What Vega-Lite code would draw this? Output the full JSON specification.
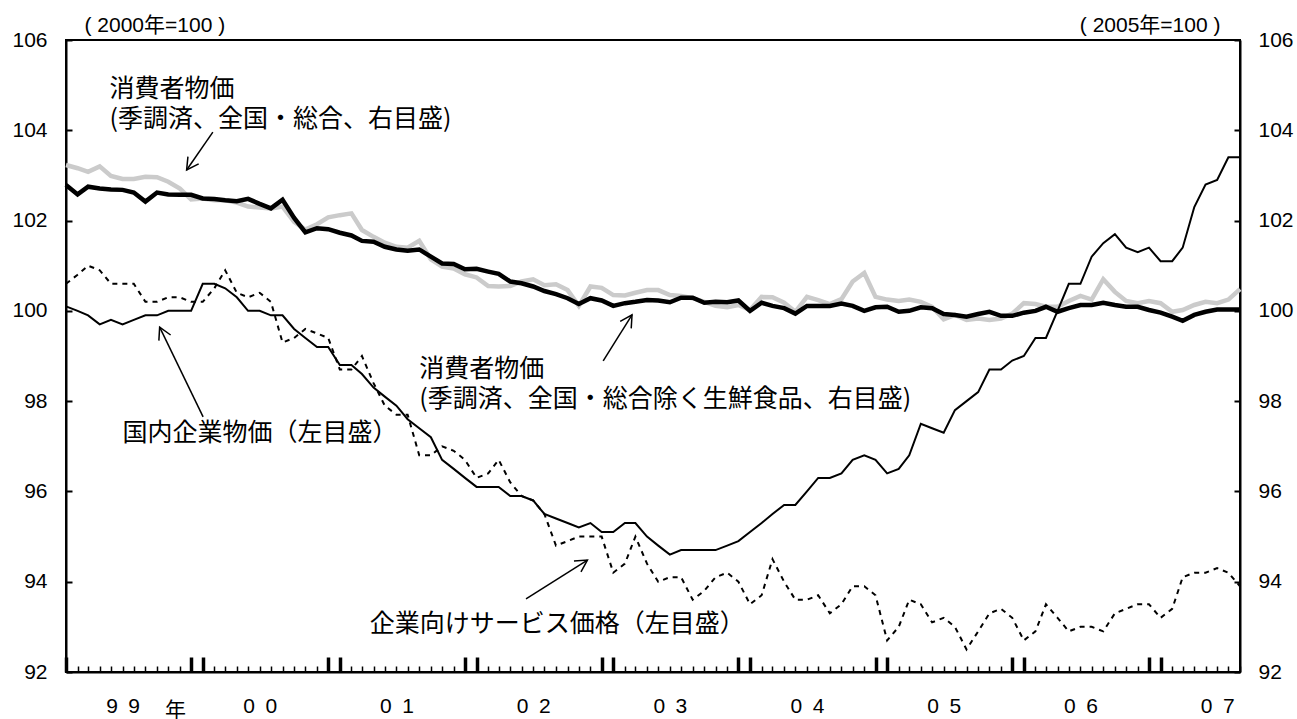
{
  "$schema": "https://vega.github.io/schema/vega-lite/v6.json",
  "width": 1174,
  "height": 632,
  "autosize": "none",
  "padding": {"left": 66, "top": 40, "right": 57, "bottom": 47},
  "background": "white",
  "datasets": {
    "prices": [
      {"date":"1999-01-01","ppi":100.1,"sppi":100.6,"cpi":103.23,"core":102.79},
      {"date":"1999-02-01","ppi":100.0,"sppi":100.8,"cpi":103.16,"core":102.58},
      {"date":"1999-03-01","ppi":99.9,"sppi":101.0,"cpi":103.08,"core":102.75},
      {"date":"1999-04-01","ppi":99.7,"sppi":100.9,"cpi":103.2,"core":102.71},
      {"date":"1999-05-01","ppi":99.8,"sppi":100.6,"cpi":102.99,"core":102.69},
      {"date":"1999-06-01","ppi":99.7,"sppi":100.6,"cpi":102.92,"core":102.68},
      {"date":"1999-07-01","ppi":99.8,"sppi":100.6,"cpi":102.92,"core":102.62},
      {"date":"1999-08-01","ppi":99.9,"sppi":100.2,"cpi":102.97,"core":102.42},
      {"date":"1999-09-01","ppi":99.9,"sppi":100.2,"cpi":102.96,"core":102.62},
      {"date":"1999-10-01","ppi":100.0,"sppi":100.3,"cpi":102.86,"core":102.58},
      {"date":"1999-11-01","ppi":100.0,"sppi":100.3,"cpi":102.71,"core":102.57},
      {"date":"1999-12-01","ppi":100.0,"sppi":100.2,"cpi":102.47,"core":102.57},
      {"date":"2000-01-01","ppi":100.6,"sppi":100.2,"cpi":102.49,"core":102.49},
      {"date":"2000-02-01","ppi":100.6,"sppi":100.5,"cpi":102.45,"core":102.48},
      {"date":"2000-03-01","ppi":100.5,"sppi":100.9,"cpi":102.45,"core":102.45},
      {"date":"2000-04-01","ppi":100.3,"sppi":100.4,"cpi":102.4,"core":102.43},
      {"date":"2000-05-01","ppi":100.0,"sppi":100.3,"cpi":102.31,"core":102.48},
      {"date":"2000-06-01","ppi":100.0,"sppi":100.4,"cpi":102.29,"core":102.37},
      {"date":"2000-07-01","ppi":99.9,"sppi":100.2,"cpi":102.27,"core":102.27},
      {"date":"2000-08-01","ppi":99.9,"sppi":99.3,"cpi":102.31,"core":102.46},
      {"date":"2000-09-01","ppi":99.6,"sppi":99.4,"cpi":101.97,"core":102.06},
      {"date":"2000-10-01","ppi":99.4,"sppi":99.6,"cpi":101.8,"core":101.74},
      {"date":"2000-11-01","ppi":99.2,"sppi":99.5,"cpi":101.92,"core":101.83},
      {"date":"2000-12-01","ppi":99.2,"sppi":99.4,"cpi":102.07,"core":101.81},
      {"date":"2001-01-01","ppi":98.8,"sppi":98.7,"cpi":102.12,"core":101.73},
      {"date":"2001-02-01","ppi":98.8,"sppi":98.7,"cpi":102.16,"core":101.67},
      {"date":"2001-03-01","ppi":98.6,"sppi":99.0,"cpi":101.79,"core":101.55},
      {"date":"2001-04-01","ppi":98.3,"sppi":98.4,"cpi":101.64,"core":101.53},
      {"date":"2001-05-01","ppi":98.1,"sppi":97.9,"cpi":101.51,"core":101.42},
      {"date":"2001-06-01","ppi":97.9,"sppi":97.7,"cpi":101.42,"core":101.36},
      {"date":"2001-07-01","ppi":97.6,"sppi":97.7,"cpi":101.4,"core":101.33},
      {"date":"2001-08-01","ppi":97.4,"sppi":96.8,"cpi":101.55,"core":101.36},
      {"date":"2001-09-01","ppi":97.2,"sppi":96.8,"cpi":101.14,"core":101.2},
      {"date":"2001-10-01","ppi":96.7,"sppi":97.0,"cpi":100.98,"core":101.05},
      {"date":"2001-11-01","ppi":96.5,"sppi":96.9,"cpi":100.94,"core":101.04},
      {"date":"2001-12-01","ppi":96.3,"sppi":96.7,"cpi":100.81,"core":100.92},
      {"date":"2002-01-01","ppi":96.1,"sppi":96.3,"cpi":100.74,"core":100.93},
      {"date":"2002-02-01","ppi":96.1,"sppi":96.4,"cpi":100.55,"core":100.87},
      {"date":"2002-03-01","ppi":96.1,"sppi":96.7,"cpi":100.54,"core":100.82},
      {"date":"2002-04-01","ppi":95.9,"sppi":96.2,"cpi":100.55,"core":100.65},
      {"date":"2002-05-01","ppi":95.9,"sppi":95.9,"cpi":100.65,"core":100.61},
      {"date":"2002-06-01","ppi":95.8,"sppi":95.8,"cpi":100.7,"core":100.54},
      {"date":"2002-07-01","ppi":95.5,"sppi":95.5,"cpi":100.57,"core":100.44},
      {"date":"2002-08-01","ppi":95.4,"sppi":94.8,"cpi":100.59,"core":100.37},
      {"date":"2002-09-01","ppi":95.3,"sppi":94.9,"cpi":100.46,"core":100.28},
      {"date":"2002-10-01","ppi":95.2,"sppi":95.0,"cpi":100.11,"core":100.15},
      {"date":"2002-11-01","ppi":95.3,"sppi":95.0,"cpi":100.54,"core":100.28},
      {"date":"2002-12-01","ppi":95.1,"sppi":95.0,"cpi":100.51,"core":100.23},
      {"date":"2003-01-01","ppi":95.1,"sppi":94.2,"cpi":100.35,"core":100.11},
      {"date":"2003-02-01","ppi":95.3,"sppi":94.4,"cpi":100.34,"core":100.17},
      {"date":"2003-03-01","ppi":95.3,"sppi":95.0,"cpi":100.4,"core":100.2},
      {"date":"2003-04-01","ppi":95.0,"sppi":94.4,"cpi":100.46,"core":100.24},
      {"date":"2003-05-01","ppi":94.8,"sppi":94.0,"cpi":100.46,"core":100.23},
      {"date":"2003-06-01","ppi":94.6,"sppi":94.1,"cpi":100.35,"core":100.19},
      {"date":"2003-07-01","ppi":94.7,"sppi":94.1,"cpi":100.33,"core":100.29},
      {"date":"2003-08-01","ppi":94.7,"sppi":93.6,"cpi":100.28,"core":100.29},
      {"date":"2003-09-01","ppi":94.7,"sppi":93.8,"cpi":100.2,"core":100.18},
      {"date":"2003-10-01","ppi":94.7,"sppi":94.1,"cpi":100.11,"core":100.2},
      {"date":"2003-11-01","ppi":94.8,"sppi":94.2,"cpi":100.08,"core":100.19},
      {"date":"2003-12-01","ppi":94.9,"sppi":94.0,"cpi":100.13,"core":100.23},
      {"date":"2004-01-01","ppi":95.1,"sppi":93.5,"cpi":100.02,"core":100.0},
      {"date":"2004-02-01","ppi":95.3,"sppi":93.7,"cpi":100.31,"core":100.18},
      {"date":"2004-03-01","ppi":95.5,"sppi":94.5,"cpi":100.3,"core":100.11},
      {"date":"2004-04-01","ppi":95.7,"sppi":94.0,"cpi":100.18,"core":100.06},
      {"date":"2004-05-01","ppi":95.7,"sppi":93.6,"cpi":99.98,"core":99.94},
      {"date":"2004-06-01","ppi":96.0,"sppi":93.6,"cpi":100.31,"core":100.11},
      {"date":"2004-07-01","ppi":96.3,"sppi":93.7,"cpi":100.24,"core":100.11},
      {"date":"2004-08-01","ppi":96.3,"sppi":93.3,"cpi":100.15,"core":100.11},
      {"date":"2004-09-01","ppi":96.4,"sppi":93.5,"cpi":100.26,"core":100.16},
      {"date":"2004-10-01","ppi":96.7,"sppi":93.9,"cpi":100.65,"core":100.11},
      {"date":"2004-11-01","ppi":96.8,"sppi":93.9,"cpi":100.84,"core":100.0},
      {"date":"2004-12-01","ppi":96.7,"sppi":93.7,"cpi":100.31,"core":100.08},
      {"date":"2005-01-01","ppi":96.4,"sppi":92.7,"cpi":100.25,"core":100.09},
      {"date":"2005-02-01","ppi":96.5,"sppi":93.0,"cpi":100.22,"core":99.98},
      {"date":"2005-03-01","ppi":96.8,"sppi":93.6,"cpi":100.25,"core":100.0},
      {"date":"2005-04-01","ppi":97.5,"sppi":93.5,"cpi":100.2,"core":100.08},
      {"date":"2005-05-01","ppi":97.4,"sppi":93.1,"cpi":100.09,"core":100.06},
      {"date":"2005-06-01","ppi":97.3,"sppi":93.2,"cpi":99.81,"core":99.93},
      {"date":"2005-07-01","ppi":97.8,"sppi":93.0,"cpi":99.91,"core":99.91},
      {"date":"2005-08-01","ppi":98.0,"sppi":92.5,"cpi":99.8,"core":99.87},
      {"date":"2005-09-01","ppi":98.2,"sppi":92.9,"cpi":99.83,"core":99.93},
      {"date":"2005-10-01","ppi":98.7,"sppi":93.3,"cpi":99.8,"core":99.98},
      {"date":"2005-11-01","ppi":98.7,"sppi":93.4,"cpi":99.83,"core":99.89},
      {"date":"2005-12-01","ppi":98.9,"sppi":93.2,"cpi":99.94,"core":99.89},
      {"date":"2006-01-01","ppi":99.0,"sppi":92.7,"cpi":100.17,"core":99.96},
      {"date":"2006-02-01","ppi":99.4,"sppi":92.9,"cpi":100.15,"core":100.0},
      {"date":"2006-03-01","ppi":99.4,"sppi":93.5,"cpi":100.09,"core":100.09},
      {"date":"2006-04-01","ppi":100.0,"sppi":93.2,"cpi":100.09,"core":99.98},
      {"date":"2006-05-01","ppi":100.6,"sppi":92.9,"cpi":100.22,"core":100.06},
      {"date":"2006-06-01","ppi":100.6,"sppi":93.0,"cpi":100.33,"core":100.13},
      {"date":"2006-07-01","ppi":101.2,"sppi":93.0,"cpi":100.25,"core":100.13},
      {"date":"2006-08-01","ppi":101.5,"sppi":92.9,"cpi":100.7,"core":100.18},
      {"date":"2006-09-01","ppi":101.7,"sppi":93.3,"cpi":100.42,"core":100.13},
      {"date":"2006-10-01","ppi":101.4,"sppi":93.4,"cpi":100.22,"core":100.09},
      {"date":"2006-11-01","ppi":101.3,"sppi":93.5,"cpi":100.17,"core":100.09},
      {"date":"2006-12-01","ppi":101.4,"sppi":93.5,"cpi":100.22,"core":100.02},
      {"date":"2007-01-01","ppi":101.1,"sppi":93.2,"cpi":100.17,"core":99.96},
      {"date":"2007-02-01","ppi":101.1,"sppi":93.4,"cpi":99.98,"core":99.87},
      {"date":"2007-03-01","ppi":101.4,"sppi":94.1,"cpi":100.02,"core":99.78},
      {"date":"2007-04-01","ppi":102.3,"sppi":94.2,"cpi":100.13,"core":99.91},
      {"date":"2007-05-01","ppi":102.8,"sppi":94.2,"cpi":100.2,"core":99.98},
      {"date":"2007-06-01","ppi":102.9,"sppi":94.3,"cpi":100.17,"core":100.03},
      {"date":"2007-07-01","ppi":103.4,"sppi":94.2,"cpi":100.25,"core":100.03},
      {"date":"2007-08-01","ppi":103.4,"sppi":93.9,"cpi":100.48,"core":100.03}
    ],
    "notes": [
      {"date":"1999-04-27","v":104.92,"label":"消費者物価\n(季調済、全国・総合、右目盛)"},
      {"date":"2001-08-01","v":98.71,"label":"消費者物価\n(季調済、全国・総合除く生鮮食品、右目盛)"},
      {"date":"1999-06-01","v":97.29,"label":"国内企業物価（左目盛）"},
      {"date":"2001-03-22","v":93.06,"label":"企業向けサービス価格（左目盛）"}
    ],
    "arrows": [
      {"id":"A","x1":"2000-01-28","y1":103.96,"x2":"1999-11-19","y2":103.12},
      {"id":"B","x1":"2002-12-05","y1":98.89,"x2":"2003-02-20","y2":99.91},
      {"id":"C","x1":"2000-01-02","y1":97.65,"x2":"1999-09-08","y2":99.64},
      {"id":"D","x1":"2002-05-13","y1":93.62,"x2":"2002-10-24","y2":94.48}
    ]
  },
  "config": {
    "view": {"stroke": "black", "strokeWidth": 2},
    "axis": {
      "grid": false,
      "domainColor": "black",
      "domainWidth": 2,
      "tickColor": "black",
      "labelColor": "black",
      "titleColor": "black",
      "labelFont": "Liberation Sans",
      "labelFontSize": 21,
      "titleFontWeight": "normal"
    }
  },
  "layer": [
    {
      "data": {"name": "prices"},
      "layer": [
        {
          "mark": {"type": "line", "color": "#cbcbcb", "strokeWidth": 4.5},
          "encoding": {
            "x": {"field": "date", "type": "temporal",
                  "scale": {"type": "utc", "domain": [{"year": 1999, "month": 1, "date": 1, "utc": true}, {"year": 2007, "month": 8, "date": 1, "utc": true}], "nice": false},
                  "axis": {
                    "orient": "bottom",
                    "tickCount": {"interval": "month", "step": 1},
                    "tickSize": {"condition": {"test": "utcmonth(datum.value) == 0 || utcmonth(datum.value) == 11", "value": -15}, "value": -6},
                    "tickWidth": {"condition": {"test": "utcmonth(datum.value) == 0 || utcmonth(datum.value) == 11", "value": 3.5}, "value": 1.5},
                    "labelExpr": "utcmonth(datum.value) == 5 ? substring(utcFormat(datum.value, '%y'), 0, 1) + '\u2002' + substring(utcFormat(datum.value, '%y'), 1, 2) : ''",
                    "labelPadding": 29,
                    "labelOverlap": false,
                    "labelFlush": false,
                    "labelBound": false,
                    "title": "年",
                    "titleFont": "Noto Sans CJK JP",
                    "titleFontSize": 21,
                    "titleAngle": 0,
                    "titleAlign": "center",
                    "titleBaseline": "middle",
                    "titleX": 109,
                    "titleY": 38
                  }},
            "y": {"field": "cpi", "type": "quantitative",
                  "scale": {"domain": [92, 106], "nice": false, "zero": false},
                  "axis": {
                    "orient": "right",
                    "values": [92, 94, 96, 98, 100, 102, 104, 106],
                    "format": "d",
                    "tickSize": -6,
                    "tickWidth": 2,
                    "labelPadding": 24,
                    "title": "(  2005年=100  )",
                    "titleFont": "Liberation Sans, Noto Sans CJK JP",
                    "titleFontSize": 21,
                    "titleAngle": 0,
                    "titleAlign": "right",
                    "titleBaseline": "middle",
                    "titleX": -20,
                    "titleY": -15
                  }}
          }
        },
        {
          "mark": {"type": "line", "color": "black", "strokeWidth": 4.5},
          "encoding": {
            "x": {"field": "date", "type": "temporal"},
            "y": {"field": "core", "type": "quantitative"}
          }
        }
      ]
    },
    {
      "layer": [
        {
          "data": {"name": "prices"},
          "mark": {"type": "line", "color": "black", "strokeWidth": 2},
          "encoding": {
            "x": {"field": "date", "type": "temporal"},
            "y": {"field": "ppi", "type": "quantitative",
                  "scale": {"domain": [92, 106], "nice": false, "zero": false},
                  "axis": {
                    "orient": "left",
                    "values": [92, 94, 96, 98, 100, 102, 104, 106],
                    "format": "d",
                    "tickSize": -6,
                    "tickWidth": 2,
                    "labelPadding": 25,
                    "title": "(  2000年=100  )",
                    "titleFont": "Liberation Sans, Noto Sans CJK JP",
                    "titleFontSize": 21,
                    "titleAngle": 0,
                    "titleAlign": "left",
                    "titleBaseline": "middle",
                    "titleX": 18,
                    "titleY": -15
                  }}
          }
        },
        {
          "data": {"name": "prices"},
          "mark": {"type": "line", "color": "black", "strokeWidth": 2, "strokeDash": [5, 5]},
          "encoding": {
            "x": {"field": "date", "type": "temporal"},
            "y": {"field": "sppi", "type": "quantitative"}
          }
        },
        {
          "data": {"name": "notes"},
          "mark": {"type": "text", "align": "left", "baseline": "middle", "font": "Noto Sans CJK JP", "fontSize": 25, "lineBreak": "\n", "lineHeight": 30, "color": "black"},
          "encoding": {
            "x": {"field": "date", "type": "temporal"},
            "y": {"field": "v", "type": "quantitative"},
            "text": {"field": "label"}
          }
        },
        {
          "data": {"name": "arrows"},
          "mark": {"type": "rule", "color": "black", "strokeWidth": 1.5},
          "encoding": {
            "x": {"field": "x1", "type": "temporal"},
            "x2": {"field": "x2"},
            "y": {"field": "y1", "type": "quantitative"},
            "y2": {"field": "y2"}
          }
        },
        {
          "data": {"name": "arrows"},
          "transform": [{"filter": "datum.id == 'A'"}],
          "mark": {"type": "point", "shape": "M -1 -0.55 L 0 0 L -1 0.55", "size": 560, "filled": false, "color": "black", "strokeWidth": 1.5, "opacity": 1, "angle": 124.4},
          "encoding": {
            "x": {"field": "x2", "type": "temporal"},
            "y": {"field": "y2", "type": "quantitative"}
          }
        },
        {
          "data": {"name": "arrows"},
          "transform": [{"filter": "datum.id == 'B'"}],
          "mark": {"type": "point", "shape": "M -1 -0.55 L 0 0 L -1 0.55", "size": 560, "filled": false, "color": "black", "strokeWidth": 1.5, "opacity": 1, "angle": 302.2},
          "encoding": {
            "x": {"field": "x2", "type": "temporal"},
            "y": {"field": "y2", "type": "quantitative"}
          }
        },
        {
          "data": {"name": "arrows"},
          "transform": [{"filter": "datum.id == 'C'"}],
          "mark": {"type": "point", "shape": "M -1 -0.55 L 0 0 L -1 0.55", "size": 560, "filled": false, "color": "black", "strokeWidth": 1.5, "opacity": 1, "angle": 244.5},
          "encoding": {
            "x": {"field": "x2", "type": "temporal"},
            "y": {"field": "y2", "type": "quantitative"}
          }
        },
        {
          "data": {"name": "arrows"},
          "transform": [{"filter": "datum.id == 'D'"}],
          "mark": {"type": "point", "shape": "M -1 -0.55 L 0 0 L -1 0.55", "size": 560, "filled": false, "color": "black", "strokeWidth": 1.5, "opacity": 1, "angle": 327.4},
          "encoding": {
            "x": {"field": "x2", "type": "temporal"},
            "y": {"field": "y2", "type": "quantitative"}
          }
        }
      ]
    }
  ],
  "resolve": {"scale": {"y": "independent"}}
}
